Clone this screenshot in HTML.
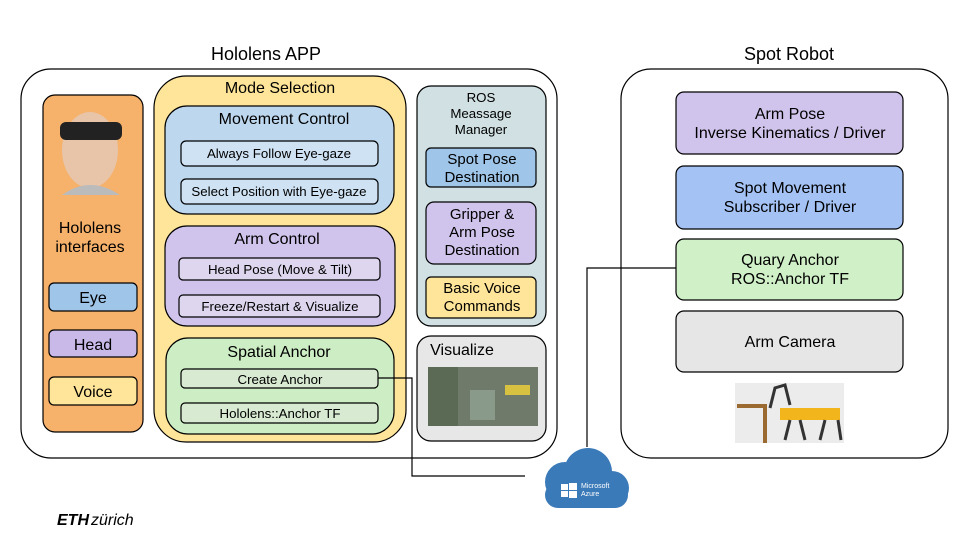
<!DOCTYPE html>
<html><head><meta charset="utf-8"><style>
body{margin:0;background:#fff}
svg text{font-family:"Liberation Sans",Arial,sans-serif;fill:#000}
</style></head><body>
<svg width="960" height="540" viewBox="0 0 960 540" xmlns="http://www.w3.org/2000/svg">
<g stroke="#000" stroke-width="1.2">
<rect x="21" y="69" width="536" height="389" rx="30" fill="#fff"/>
<rect x="621" y="69" width="327" height="389" rx="30" fill="#fff"/>
<rect x="43" y="95" width="100" height="337" rx="12" fill="#f6b26b"/>
<rect x="49" y="283" width="88" height="28" rx="5" fill="#9fc5e8"/>
<rect x="49" y="330" width="88" height="27" rx="5" fill="#c9b9e8"/>
<rect x="49" y="377" width="88" height="28" rx="5" fill="#ffe599"/>
<rect x="154" y="76" width="252" height="366" rx="32" fill="#ffe599"/>
<rect x="165" y="106" width="229" height="108" rx="22" fill="#bdd7ee"/>
<rect x="181" y="141" width="197" height="25" rx="5" fill="#cfe2f3"/>
<rect x="181" y="179" width="197" height="25" rx="5" fill="#cfe2f3"/>
<rect x="165" y="226" width="230" height="100" rx="22" fill="#d0c4ec"/>
<rect x="179" y="258" width="201" height="22" rx="4" fill="#ddd6ee"/>
<rect x="179" y="295" width="201" height="22" rx="4" fill="#ddd6ee"/>
<rect x="166" y="338" width="228" height="96" rx="22" fill="#cdedc5"/>
<rect x="181" y="369" width="197" height="19" rx="4" fill="#d9ead3"/>
<rect x="181" y="403" width="197" height="20" rx="4" fill="#d9ead3"/>
<rect x="417" y="86" width="129" height="240" rx="14" fill="#d0e0e3"/>
<rect x="426" y="148" width="110" height="39" rx="5" fill="#9fc5e8"/>
<rect x="426" y="202" width="110" height="62" rx="8" fill="#d0c4ec"/>
<rect x="426" y="277" width="110" height="41" rx="5" fill="#ffe599"/>
<rect x="417" y="336" width="129" height="105" rx="14" fill="#e7e7e7"/>
<rect x="676" y="92" width="227" height="62" rx="8" fill="#d0c4ec"/>
<rect x="676" y="166" width="227" height="63" rx="8" fill="#a4c2f4"/>
<rect x="676" y="239" width="227" height="61" rx="8" fill="#d0f0c8"/>
<rect x="676" y="311" width="227" height="61" rx="8" fill="#e6e6e6"/>
<polyline points="378,378 412,378 412,476 525,476" fill="none"/>
<polyline points="587,447 587,268 676,268" fill="none"/>
</g>
<rect x="428" y="367" width="110" height="59" fill="#6f7a6a"/>
<rect x="428" y="367" width="30" height="59" fill="#5a6a55"/>
<rect x="470" y="390" width="25" height="30" fill="#8a9a8a"/>
<rect x="505" y="385" width="25" height="10" fill="#d8c040"/>
<rect x="735" y="383" width="109" height="60" fill="#ececec"/>
<rect x="737" y="404" width="30" height="4" fill="#9a6a30"/>
<rect x="763" y="404" width="4" height="39" fill="#9a6a30"/>
<rect x="780" y="408" width="60" height="12" fill="#f2b51c"/>
<path d="M770 408 L775 388 L785 385 L790 405" stroke="#333" stroke-width="3" fill="none"/>
<path d="M790 420 l-5 20 M800 420 l5 20 M825 420 l-5 20 M838 420 l3 20" stroke="#333" stroke-width="3"/>
<ellipse cx="90" cy="150" rx="28" ry="38" fill="#e8c4a8"/>
<rect x="60" y="122" width="62" height="18" rx="6" fill="#222"/>
<path d="M62 195 Q90 175 120 195 Z" fill="#bbb"/>
<g fill="#3b7ab8">
<circle cx="565" cy="482" r="20"/><circle cx="588" cy="472" r="24"/><circle cx="612" cy="488" r="17"/>
<rect x="545" y="482" width="83" height="26" rx="13"/>
</g>
<g fill="#fff"><rect x="561" y="484" width="7" height="6"/><rect x="569" y="483" width="8" height="7"/><rect x="561" y="491" width="7" height="6"/><rect x="569" y="491" width="8" height="7"/></g>
<text x="581" y="488" font-size="7" style="fill:#fff">Microsoft</text>
<text x="581" y="496" font-size="7" style="fill:#fff">Azure</text>
<g font-size="18" text-anchor="middle">
<text x="266" y="60">Hololens APP</text>
<text x="789" y="60">Spot Robot</text>
</g>
<g font-size="16" text-anchor="middle">
<text x="280" y="93">Mode Selection</text>
<text x="284" y="124">Movement Control</text>
<text x="277" y="244">Arm Control</text>
<text x="279" y="357">Spatial Anchor</text>
<text x="90" y="233">Hololens</text>
<text x="90" y="252">interfaces</text>
<text x="93" y="303">Eye</text>
<text x="93" y="350">Head</text>
<text x="93" y="397">Voice</text>
<text x="462" y="355">Visualize</text>
<text x="790" y="119">Arm Pose</text>
<text x="790" y="138">Inverse Kinematics / Driver</text>
<text x="790" y="193">Spot Movement</text>
<text x="790" y="212">Subscriber / Driver</text>
<text x="790" y="265">Quary Anchor</text>
<text x="790" y="284">ROS::Anchor TF</text>
<text x="790" y="347">Arm Camera</text>
</g>
<g font-size="13.3" text-anchor="middle">
<text x="279" y="158">Always Follow Eye-gaze</text>
<text x="279" y="196">Select Position with Eye-gaze</text>
<text x="280" y="274">Head Pose (Move &amp; Tilt)</text>
<text x="280" y="311">Freeze/Restart &amp; Visualize</text>
<text x="280" y="384">Create Anchor</text>
<text x="280" y="418">Hololens::Anchor TF</text>
<text x="481" y="102">ROS</text>
<text x="481" y="118">Meassage</text>
<text x="481" y="134">Manager</text>
</g>
<g font-size="15" text-anchor="middle">
<text x="482" y="164">Spot Pose</text>
<text x="482" y="182">Destination</text>
<text x="482" y="219">Gripper &amp;</text>
<text x="482" y="237">Arm Pose</text>
<text x="482" y="255">Destination</text>
<text x="482" y="293">Basic Voice</text>
<text x="482" y="311">Commands</text>
</g>
<text x="57" y="525" font-size="16" font-weight="bold" font-style="italic">ETH</text>
<text x="91" y="525" font-size="16" font-style="italic">zürich</text>
</svg>
</body></html>
